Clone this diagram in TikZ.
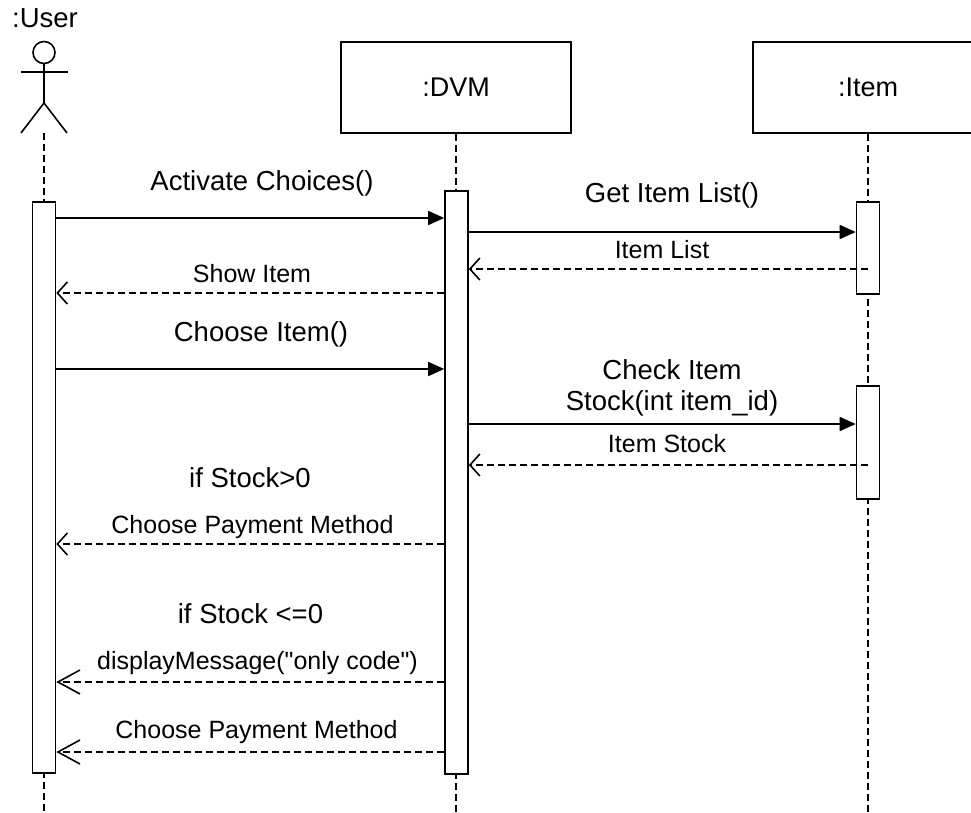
\documentclass[tikz,border=0pt]{standalone}
\usepackage{fontspec}
\setmainfont{Liberation Sans}
\usetikzlibrary{arrows.meta}

% straight double quote, kept out of the TeX ligature mapping
\newcommand\dquote{\XeTeXglyph\XeTeXcharglyph"22\relax}

\tikzset{
  lifebox/.style={draw, rectangle, minimum width=230, minimum height=91, inner sep=0pt, font=\fontsize{27}{32}\selectfont},
  actbox/.style={draw, rectangle, fill=white, minimum width=23, inner sep=0pt},
  lifeline/.style={dash pattern=on 7pt off 4pt},
  call/.style={-{Triangle[length=16pt,width=14pt]}},
  reply/.style={dash pattern=on 7pt off 4pt, -{Straight Barb[length=10pt,width=22pt]}},
  bigreply/.style={dash pattern=on 7pt off 4pt, -{Straight Barb[length=22pt,width=24pt]}},
  lbl/.style={anchor=base, inner sep=0pt, font=\fontsize{27.5}{33}\selectfont},
  smalllbl/.style={anchor=base, inner sep=0pt, font=\fontsize{25}{30}\selectfont}
}

\begin{document}
\begin{tikzpicture}[x=1pt, y=-1pt, line width=1.6pt]
  \path[use as bounding box, clip] (0,0) rectangle (971,813);
  \coordinate (bot) at (0,813);

  % the actor
  \node[lbl] (userlbl) at (45,28) {:User};
  \node[draw, circle, minimum size=22, inner sep=0pt] (userhead) at (44,52.5) {};
  \coordinate (userhip) at (44,103);
  \coordinate (userlegs) at (44,133);
  \draw (userhead.south) -- (userhip);
  \draw (21,72) -- (68,72);
  \draw (21,133) -- (userhip) -- (67,133);

  % heads of the lifelines
  \node[lifebox] (dvm) at (456,87.5) {:DVM};
  \node[lifebox] (item) at (868,87.5) {:Item};

  % lifelines
  \draw[lifeline] (userlegs) -- (userlegs |- bot);
  \draw[lifeline] (dvm.south) -- (dvm.south |- bot);
  \draw[lifeline] (item.south) -- (item.south |- bot);

  % activations
  \node[actbox, minimum height=571] (useract) at (44,487.5) {};
  \node[actbox, minimum height=583] (dvmact) at (456.5,482.5) {};
  \node[actbox, minimum height=92] (itemacta) at (868,248) {};
  \node[actbox, minimum height=113] (itemactb) at (868,442.5) {};

  % rows of the messages
  \coordinate (r1) at (0,218);
  \coordinate (r2) at (0,232);
  \coordinate (r3) at (0,269);
  \coordinate (r4) at (0,293);
  \coordinate (r5) at (0,369);
  \coordinate (r6) at (0,424);
  \coordinate (r7) at (0,465);
  \coordinate (r8) at (0,544);
  \coordinate (r9) at (0,682);
  \coordinate (r10) at (0,752);

  \draw[call] (useract.east |- r1) -- (dvmact.west |- r1);
  \draw[call] (dvmact.east |- r2) -- (itemacta.west |- r2);
  \draw[reply] (itemacta.center |- r3) -- (dvmact.east |- r3);
  \draw[reply] (dvmact.west |- r4) -- (useract.east |- r4);
  \draw[call] (useract.east |- r5) -- (dvmact.west |- r5);
  \draw[call] (dvmact.east |- r6) -- (itemactb.west |- r6);
  \draw[reply] (itemactb.center |- r7) -- (dvmact.east |- r7);
  \draw[reply] (dvmact.west |- r8) -- (useract.east |- r8);
  \draw[bigreply] (dvmact.west |- r9) -- (useract.east |- r9);
  \draw[bigreply] (dvmact.west |- r10) -- (useract.east |- r10);

  % labels
  \node[lbl] (actlbl) at (262,190) {Activate Choices()};
  \node[lbl] (getlbl) at (672,203) {Get Item List()};
  \node[smalllbl] (listlbl) at (662,258) {Item List};
  \node[smalllbl] (showlbl) at (252,282) {Show Item};
  \node[lbl] (chooselbl) at (261,341) {Choose Item()};
  \node[lbl] (checklbl) at (672,379) {Check Item};
  \node[lbl] (stockarglbl) at (672,410) {Stock(int item\_id)};
  \node[smalllbl] (stocklbl) at (667,452) {Item Stock};
  \node[lbl] (gtlbl) at (250,487) {if Stock>0};
  \node[smalllbl] (paylbl) at (252.5,533) {Choose Payment Method};
  \node[lbl] (lelbl) at (250.5,623) {if Stock <=0};
  \node[smalllbl] (msglbl) at (257.5,669) {displayMessage(\dquote only code\dquote)};
  \node[smalllbl] (paylblb) at (256.5,738) {Choose Payment Method};
\end{tikzpicture}
\end{document}
